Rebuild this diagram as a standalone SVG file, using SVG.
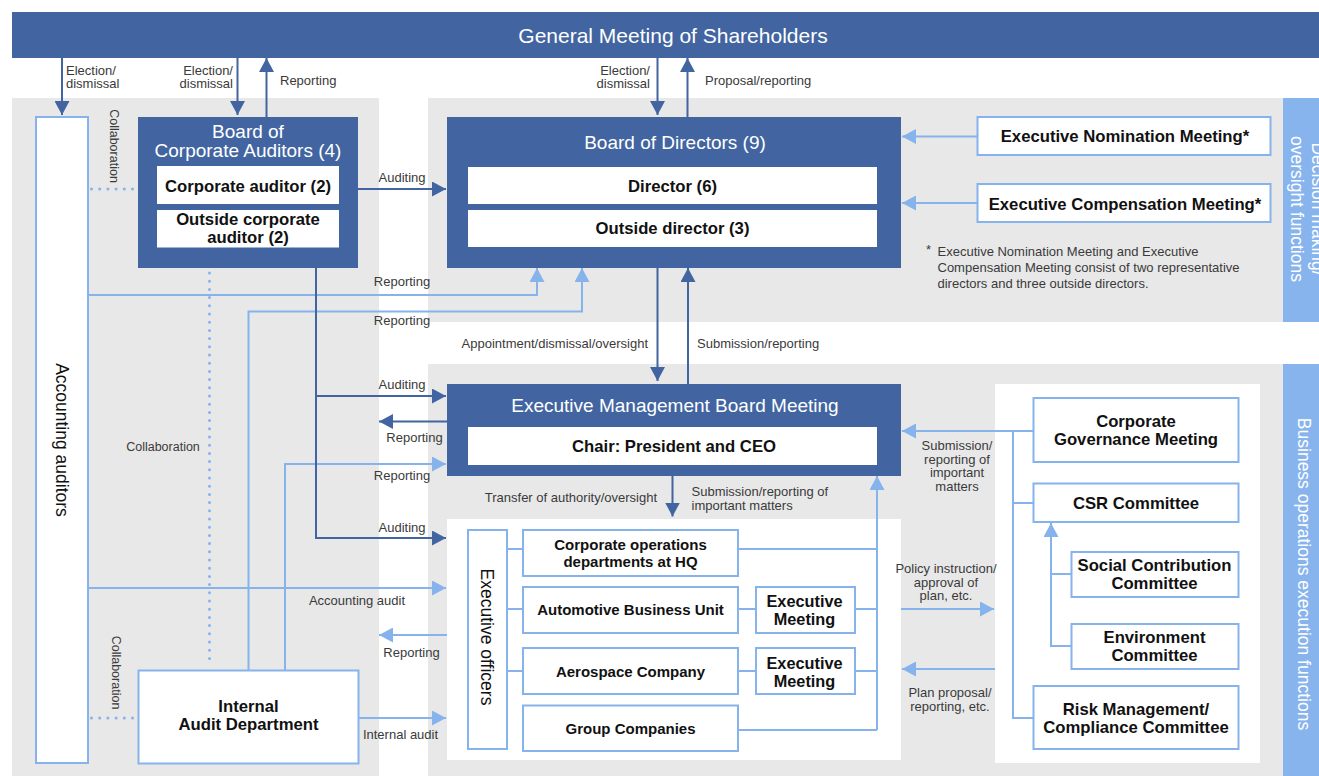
<svg xmlns="http://www.w3.org/2000/svg" width="1319" height="776" viewBox="0 0 1319 776">
  <style>
    text { font-family: "Liberation Sans", Arial, Helvetica, sans-serif; text-anchor: middle; dominant-baseline: central; }
    .dk { fill: #4265a1; }
    .wb { fill: #ffffff; }
    .lb { fill: #ffffff; stroke: #86b3ec; stroke-width: 2; }
    .panel { fill: #e8e8e8; }
    .side { fill: #88b4ee; }
    .hd { font-size: 19px; fill: #ffffff; }
    .bx { font-size: 16.7px; font-weight: bold; fill: #111111; }
    .bs { font-size: 15px; font-weight: bold; fill: #111111; }
    .vt { font-size: 17.5px; fill: #111111; }
    .sd { font-size: 17.5px; fill: #ffffff; }
    .lbl { font-size: 13px; fill: #3a3a3a; }
    .st { text-anchor: start; }
    .en { text-anchor: end; }
    .c-dk { stroke: #4265a1; stroke-width: 2; fill: none; }
    .c-lt { stroke: #86b3ec; stroke-width: 2; fill: none; }
    .dot { stroke: #86b3ec; stroke-width: 3; stroke-linecap: round; stroke-dasharray: 0 8.2; fill: none; }
  </style>
  <defs>
    <marker id="ad" markerUnits="userSpaceOnUse" markerWidth="14" markerHeight="15" refX="14" refY="7.5" orient="auto">
      <path d="M0,0 L14,7.5 L0,15 Z" fill="#4265a1"/>
    </marker>
    <marker id="al" markerUnits="userSpaceOnUse" markerWidth="14" markerHeight="15" refX="14" refY="7.5" orient="auto">
      <path d="M0,0 L14,7.5 L0,15 Z" fill="#86b3ec"/>
    </marker>
  </defs>

  <!-- background areas -->
  <rect x="0" y="0" width="1319" height="776" fill="#ffffff"/>
  <rect class="panel" x="12" y="98" width="367" height="678"/>
  <rect class="panel" x="428" y="98" width="855" height="224"/>
  <rect class="panel" x="428" y="364" width="855" height="412"/>
  <rect class="wb" x="447" y="519" width="454" height="241"/>
  <rect class="wb" x="995" y="384" width="265" height="379"/>

  <!-- side function bands -->
  <g id="band-oversight">
    <rect class="side" x="1283" y="98" width="36" height="224"/>
    <text class="sd" transform="translate(1318,209) rotate(90)">Decision making/</text>
    <text class="sd" transform="translate(1297,209) rotate(90)">oversight functions</text>
  </g>
  <g id="band-execution">
    <rect class="side" x="1283" y="364" width="36" height="412"/>
    <text class="sd" transform="translate(1304,574) rotate(90)">Business operations execution functions</text>
  </g>

  <!-- connectors -->
  <g id="connectors">
    <!-- shareholders -->
    <path class="c-dk" d="M62,58 V115" marker-end="url(#ad)"/>
    <path class="c-dk" d="M237.5,58 V115" marker-end="url(#ad)"/>
    <path class="c-dk" d="M266.5,117 V58" marker-end="url(#ad)"/>
    <path class="c-dk" d="M657.5,58 V115" marker-end="url(#ad)"/>
    <path class="c-dk" d="M687.5,117 V58" marker-end="url(#ad)"/>

    <!-- collaboration dotted links -->
    <path class="dot" d="M91.5,189 H137"/>
    <path class="dot" d="M91.5,718 H137"/>
    <path class="dot" d="M209.5,273 V666"/>

    <!-- reporting to board of directors -->
    <path class="c-lt" d="M88,295 H537 V268" marker-end="url(#al)"/>
    <path class="c-lt" d="M248.5,670 V311.5 H582 V268" marker-end="url(#al)"/>
    <path class="c-lt" d="M285,670 V464 H446" marker-end="url(#al)"/>
    <path class="c-lt" d="M88,588 H446" marker-end="url(#al)"/>
    <path class="c-lt" d="M447,635 H379" marker-end="url(#al)"/>
    <path class="c-lt" d="M358,718 H446" marker-end="url(#al)"/>

    <!-- corporate auditors auditing -->
    <path class="c-dk" d="M358,189 H446" marker-end="url(#ad)"/>
    <path class="c-dk" d="M316,268 V538 H446" marker-end="url(#ad)"/>
    <path class="c-dk" d="M316,396 H446" marker-end="url(#ad)"/>
    <path class="c-dk" d="M447,421.5 H379" marker-end="url(#ad)"/>

    <!-- board of directors / executive management -->
    <path class="c-dk" d="M657.5,268 V381" marker-end="url(#ad)"/>
    <path class="c-dk" d="M688,384 V268" marker-end="url(#ad)"/>
    <path class="c-dk" d="M672.5,476 V516.5" marker-end="url(#ad)"/>

    <!-- nomination / compensation -->
    <path class="c-lt" d="M977,136.5 H902" marker-end="url(#al)"/>
    <path class="c-lt" d="M977,203 H902" marker-end="url(#al)"/>

    <!-- executive officers tree -->
    <path class="c-lt" d="M507,549 H523 M507,609 H523 M507,671 H523"/>
    <path class="c-lt" d="M738,609 H756 M738,671 H756"/>
    <path class="c-lt" d="M738,549 H877 M855,609 H877 M855,671 H877 M737,730 H877"/>
    <path class="c-lt" d="M877,730 V476" marker-end="url(#al)"/>

    <!-- committees -->
    <path class="c-lt" d="M1033,431 H902" marker-end="url(#al)"/>
    <path class="c-lt" d="M1013,431 V718 H1033 M1013,503 H1033"/>
    <path class="c-lt" d="M1071,646 H1051 V523" marker-end="url(#al)"/>
    <path class="c-lt" d="M1051,574 H1071"/>
    <path class="c-lt" d="M901,609 H994" marker-end="url(#al)"/>
    <path class="c-lt" d="M995,669 H902" marker-end="url(#al)"/>
  </g>

  <!-- connector labels -->
  <g id="labels">
    <text class="lbl st" x="66" y="70.5">Election/</text>
    <text class="lbl st" x="66" y="83.5">dismissal</text>
    <text class="lbl en" x="233" y="70.5">Election/</text>
    <text class="lbl en" x="233" y="83.5">dismissal</text>
    <text class="lbl st" x="280" y="80.5">Reporting</text>
    <text class="lbl en" x="650" y="70.5">Election/</text>
    <text class="lbl en" x="650" y="83.5">dismissal</text>
    <text class="lbl st" x="705" y="80.5">Proposal/reporting</text>

    <text class="lbl" transform="translate(114,146) rotate(90)" style="font-size:12.5px">Collaboration</text>
    <text class="lbl" x="163" y="446.5" style="font-size:12.5px">Collaboration</text>
    <text class="lbl" transform="translate(116,672.5) rotate(90)" style="font-size:12.5px">Collaboration</text>

    <text class="lbl" x="402" y="177.5">Auditing</text>
    <text class="lbl" x="402" y="281">Reporting</text>
    <text class="lbl" x="402" y="320.5">Reporting</text>
    <text class="lbl" x="402" y="384.5">Auditing</text>
    <text class="lbl" x="414.5" y="437.5">Reporting</text>
    <text class="lbl" x="402" y="475.5">Reporting</text>
    <text class="lbl" x="402" y="527">Auditing</text>
    <text class="lbl" x="357" y="600.5">Accounting audit</text>
    <text class="lbl" x="411.5" y="652.5">Reporting</text>
    <text class="lbl" x="400.5" y="734.5">Internal audit</text>

    <text class="lbl en" x="648" y="343.5">Appointment/dismissal/oversight</text>
    <text class="lbl st" x="697" y="343.5">Submission/reporting</text>
    <text class="lbl en" x="657" y="497.5">Transfer of authority/oversight</text>
    <text class="lbl st" x="691.5" y="491">Submission/reporting of</text>
    <text class="lbl st" x="691.5" y="505">important matters</text>

    <text class="lbl" x="957" y="445">Submission/</text>
    <text class="lbl" x="957" y="459">reporting of</text>
    <text class="lbl" x="957" y="472.5">important</text>
    <text class="lbl" x="957" y="486">matters</text>
    <text class="lbl" x="946" y="568.5">Policy instruction/</text>
    <text class="lbl" x="946" y="582">approval of</text>
    <text class="lbl" x="946" y="595.5">plan, etc.</text>
    <text class="lbl" x="950" y="692.5">Plan proposal/</text>
    <text class="lbl" x="950" y="706">reporting, etc.</text>

    <text class="lbl st" x="926" y="249">*</text>
    <text class="lbl st" x="937.5" y="251.5">Executive Nomination Meeting and Executive</text>
    <text class="lbl st" x="937.5" y="267">Compensation Meeting consist of two representative</text>
    <text class="lbl st" x="937.5" y="283">directors and three outside directors.</text>
  </g>

  <!-- nodes -->
  <g id="shareholders">
    <rect class="dk" x="12" y="12" width="1307" height="46"/>
    <text x="673" y="35.5" style="font-size:21px;fill:#ffffff">General Meeting of Shareholders</text>
  </g>

  <g id="accounting-auditors">
    <rect class="lb" x="36" y="117" width="52" height="646"/>
    <text class="vt" transform="translate(62,440) rotate(90)">Accounting auditors</text>
  </g>

  <g id="board-of-corporate-auditors">
    <rect class="dk" x="138" y="117" width="220" height="151"/>
    <text class="hd" x="248" y="131.5">Board of</text>
    <text class="hd" x="248" y="150.5">Corporate Auditors (4)</text>
    <rect class="wb" x="157" y="166" width="182" height="38"/>
    <text class="bx" x="248" y="186">Corporate auditor (2)</text>
    <rect class="wb" x="157" y="210" width="182" height="37.5"/>
    <text class="bx" x="248" y="219.5">Outside corporate</text>
    <text class="bx" x="248" y="237.5">auditor (2)</text>
  </g>

  <g id="internal-audit">
    <rect class="lb" x="138.5" y="670.5" width="220" height="93"/>
    <text class="bx" x="248.5" y="706">Internal</text>
    <text class="bx" x="248.5" y="724">Audit Department</text>
  </g>

  <g id="board-of-directors">
    <rect class="dk" x="447" y="117" width="454" height="151"/>
    <text class="hd" x="675" y="142">Board of Directors (9)</text>
    <rect class="wb" x="468" y="167" width="409" height="37"/>
    <text class="bx" x="672.5" y="186">Director (6)</text>
    <rect class="wb" x="468" y="210" width="409" height="37"/>
    <text class="bx" x="672.5" y="228.5">Outside director (3)</text>
  </g>

  <g id="nomination-meeting">
    <rect class="lb" x="977.5" y="117" width="293" height="38"/>
    <text class="bx" x="1125" y="136.5">Executive Nomination Meeting*</text>
  </g>
  <g id="compensation-meeting">
    <rect class="lb" x="977.5" y="184" width="293" height="38"/>
    <text class="bx" x="1125" y="204">Executive Compensation Meeting*</text>
  </g>

  <g id="executive-management-board">
    <rect class="dk" x="447" y="384" width="454" height="92"/>
    <text class="hd" x="675" y="405">Executive Management Board Meeting</text>
    <rect class="wb" x="468" y="427" width="409" height="38"/>
    <text class="bx" x="674" y="446.5">Chair: President and CEO</text>
  </g>

  <g id="executive-officers">
    <rect class="lb" x="468" y="530" width="39" height="219"/>
    <text class="vt" transform="translate(487,637) rotate(90)">Executive officers</text>
  </g>
  <g id="corporate-operations">
    <rect class="lb" x="523" y="530" width="215" height="46"/>
    <text class="bs" x="630.5" y="544.5">Corporate operations</text>
    <text class="bs" x="630.5" y="561.5">departments at HQ</text>
  </g>
  <g id="automotive">
    <rect class="lb" x="523" y="587" width="215" height="46"/>
    <text class="bs" x="630.5" y="609.5">Automotive Business Unit</text>
  </g>
  <g id="aerospace">
    <rect class="lb" x="523" y="648" width="215" height="46"/>
    <text class="bs" x="630.5" y="671.5">Aerospace Company</text>
  </g>
  <g id="group-companies">
    <rect class="lb" x="523" y="705.5" width="215" height="45.5"/>
    <text class="bs" x="630.5" y="728.5">Group Companies</text>
  </g>
  <g id="executive-meeting-auto">
    <rect class="lb" x="756" y="587" width="99" height="46"/>
    <text class="bx" x="804.5" y="601" style="font-size:16.3px">Executive</text>
    <text class="bx" x="804.5" y="619" style="font-size:16.3px">Meeting</text>
  </g>
  <g id="executive-meeting-aero">
    <rect class="lb" x="756" y="648" width="99" height="46"/>
    <text class="bx" x="804.5" y="663" style="font-size:16.3px">Executive</text>
    <text class="bx" x="804.5" y="681" style="font-size:16.3px">Meeting</text>
  </g>

  <g id="governance-meeting">
    <rect class="lb" x="1033.5" y="398" width="205" height="64"/>
    <text class="bx" x="1136" y="421.5">Corporate</text>
    <text class="bx" x="1136" y="439.5">Governance Meeting</text>
  </g>
  <g id="csr-committee">
    <rect class="lb" x="1033.5" y="483.5" width="205" height="38.5"/>
    <text class="bx" x="1136" y="503">CSR Committee</text>
  </g>
  <g id="social-contribution">
    <rect class="lb" x="1071.5" y="552" width="167" height="45"/>
    <text class="bx" x="1154.5" y="565.5">Social Contribution</text>
    <text class="bx" x="1154.5" y="583.5">Committee</text>
  </g>
  <g id="environment">
    <rect class="lb" x="1071.5" y="624" width="167" height="45"/>
    <text class="bx" x="1154.5" y="637.5">Environment</text>
    <text class="bx" x="1154.5" y="655.5">Committee</text>
  </g>
  <g id="risk-compliance">
    <rect class="lb" x="1033.5" y="686" width="205" height="63"/>
    <text class="bx" x="1136" y="709.5">Risk Management/</text>
    <text class="bx" x="1136" y="727.5">Compliance Committee</text>
  </g>
</svg>
